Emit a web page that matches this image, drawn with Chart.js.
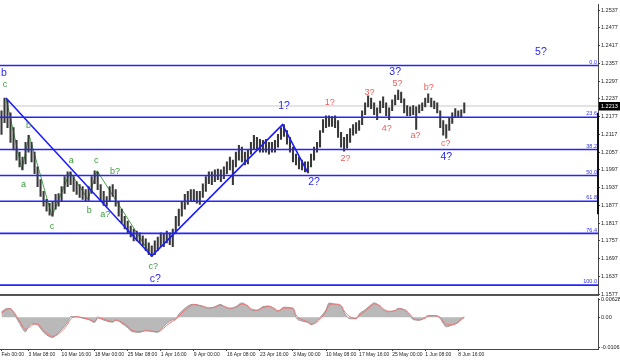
<!DOCTYPE html>
<html>
<head>
<meta charset="utf-8">
<script src="https://cdn.jsdelivr.net/npm/chart.js@4.4.0/dist/chart.umd.min.js"></script>
<style>
  html, body { margin: 0; padding: 0; background: #fff; }
  #wrap { position: relative; width: 620px; height: 361px; overflow: hidden; }
  #osc { position: absolute; left: 0; top: 294px; }
  #price { position: absolute; left: 0; top: 0; }
</style>
</head>
<body>
<div id="wrap">
  <canvas id="osc" width="620" height="67"></canvas>
  <canvas id="price" width="620" height="300"></canvas>
</div>
<script>
// 4H bars, high / low
const highs = [
  1.2197,1.2240,1.2234,1.2190,1.2140,1.2097,1.2057,1.2040,1.2090,1.2114,
  1.2090,1.2057,1.2007,1.1964,1.1924,1.1897,1.1884,1.1890,1.1914,1.1917,
  1.1940,1.1974,1.1990,1.1990,1.1974,1.1957,1.1947,1.1940,1.1930,1.1940,
  1.1974,1.1994,1.1990,1.1947,1.1924,1.1907,1.1940,1.1947,1.1930,1.1890,
  1.1864,1.1840,1.1824,1.1807,1.1797,1.1790,1.1784,1.1774,1.1764,1.1750,
  1.1740,1.1757,1.1770,1.1784,1.1780,1.1790,1.1784,1.1797,1.1840,1.1864,
  1.1890,1.1914,1.1924,1.1930,1.1930,1.1924,1.1924,1.1950,1.1974,1.1990,
  1.1990,1.1997,1.2000,1.1997,1.2007,1.2024,1.2040,1.2030,1.2057,1.2080,
  1.2074,1.2057,1.2064,1.2090,1.2114,1.2107,1.2100,1.2097,1.2100,1.2090,
  1.2090,1.2097,1.2117,1.2140,1.2150,1.2130,1.2107,1.2074,1.2050,1.2040,
  1.2030,1.2024,1.2024,1.2050,1.2074,1.2090,1.2130,1.2167,1.2180,1.2180,
  1.2177,1.2180,1.2164,1.2124,1.2107,1.2117,1.2137,1.2150,1.2157,1.2164,
  1.2197,1.2224,1.2247,1.2240,1.2224,1.2207,1.2230,1.2244,1.2224,1.2207,
  1.2234,1.2250,1.2267,1.2260,1.2237,1.2214,1.2210,1.2214,1.2210,1.2217,
  1.2224,1.2240,1.2254,1.2240,1.2230,1.2224,1.2197,1.2164,1.2150,1.2174,
  1.2190,1.2204,1.2197,1.2200,1.2224
];
const lows = [
  1.2117,1.2157,1.2140,1.2090,1.2064,1.2030,1.2007,1.1997,1.2017,1.2057,
  1.2024,1.1984,1.1940,1.1907,1.1874,1.1857,1.1844,1.1840,1.1864,1.1874,
  1.1890,1.1917,1.1940,1.1947,1.1924,1.1914,1.1904,1.1897,1.1890,1.1894,
  1.1917,1.1950,1.1930,1.1890,1.1877,1.1874,1.1890,1.1907,1.1874,1.1840,
  1.1817,1.1797,1.1784,1.1770,1.1757,1.1757,1.1750,1.1740,1.1724,1.1710,
  1.1704,1.1710,1.1724,1.1737,1.1737,1.1750,1.1744,1.1737,1.1784,1.1807,
  1.1840,1.1864,1.1880,1.1890,1.1890,1.1884,1.1880,1.1904,1.1924,1.1950,
  1.1947,1.1957,1.1964,1.1957,1.1967,1.1984,1.1997,1.1947,1.2007,1.2030,
  1.2024,1.2014,1.2017,1.2050,1.2067,1.2064,1.2057,1.2057,1.2057,1.2050,
  1.2057,1.2057,1.2074,1.2100,1.2110,1.2084,1.2057,1.2024,1.2014,1.2000,
  1.1997,1.1990,1.1987,1.2007,1.2030,1.2057,1.2074,1.2124,1.2140,1.2144,
  1.2144,1.2140,1.2107,1.2074,1.2060,1.2070,1.2090,1.2114,1.2120,1.2130,
  1.2150,1.2184,1.2210,1.2204,1.2184,1.2167,1.2190,1.2207,1.2180,1.2167,
  1.2197,1.2217,1.2234,1.2224,1.2190,1.2180,1.2180,1.2184,1.2134,1.2190,
  1.2197,1.2210,1.2224,1.2210,1.2204,1.2190,1.2140,1.2114,1.2104,1.2130,
  1.2154,1.2174,1.2174,1.2177,1.2190
];
const lastPrice = 1.2213;

const priceTicks = [1.2537,1.2477,1.2417,1.2357,1.2297,1.2237,1.2177,1.2117,1.2057,
  1.1997,1.1937,1.1877,1.1817,1.1757,1.1697,1.1637,1.1577];

const fibPrices = [1.2350, 1.2175, 1.2066, 1.1978, 1.1891, 1.1782, 1.1607];
const fibNames = ['0.0', '23.6', '38.2', '50.0', '61.8', '76.4', '100.0'];

// dark band on the price scale
const scaleBandTop = 1.2190, scaleBandBottom = 1.1847;

// wave zigzags (bar index, price)
const blueZigIdx = [1.5, 50, 93.5, 101.8];
const blueZigPrice = [1.2240, 1.1705, 1.2150, 1.1990];
const greenZigIdx = [1.5, 6.8, 9.2, 16.8, 22.8, 28.8, 31.8, 50];
const greenZigPrice = [1.2240, 1.1997, 1.2114, 1.1840, 1.1990, 1.1897, 1.1994, 1.1705];

// wave labels
const blueText = ['b', 'c?', '1?', '2?', '3?', '4?', '5?'];
const blueIdx = [0.8, 51.2, 94, 104, 131, 148, 179.5];
const bluePrice = [1.2324, 1.1627, 1.2214, 1.1954, 1.2327, 1.2040, 1.2394];
const greenText = ['c', 'b', 'a', 'c', 'a', 'b', 'c', 'b?', 'a?', 'c?'];
const greenIdx = [1.2, 9, 7.3, 16.8, 23.2, 29.2, 31.5, 37.8, 34.5, 50.5];
const greenPrice = [1.2284, 1.2147, 1.1947, 1.1807, 1.2030, 1.1860, 1.2030, 1.1990, 1.1847, 1.1670];
const redText = ['1?', '2?', '3?', '4?', '5?', 'a?', 'b?', 'c?'];
const redIdx = [109.2, 114.5, 122.5, 128.2, 131.8, 137.8, 142.2, 147.8];
const redPrice = [1.2224, 1.2034, 1.2260, 1.2137, 1.2290, 1.2114, 1.2277, 1.2087];

// oscillator
const oscIdx = [0,2,3,4,6,8,9,11,12,14,17,18,20,22,23,25,27,29,31,32,33,35,37,38,40,42,43,46,48,50,
  52,53,55,57,58,59,61,63,64,67,69,71,73,74,76,78,80,82,83,85,87,89,91,92,94,97,98,100,102,103,
  104,106,108,109,111,113,114,116,118,119,121,123,124,126,127,129,131,132,134,136,137,139,141,142,
  144,146,147,148,150,152,153,154];
const oscMain = [
  0.0019,0.0031,0.0030,0.0016,-0.0021,-0.0050,-0.0031,-0.0021,-0.0026,-0.0052,
  -0.0070,-0.0063,-0.0042,-0.0016,0.0002,0.0002,-0.0003,-0.0008,-0.0018,0.0002,
  -0.0005,-0.0013,-0.0017,-0.0008,-0.0021,-0.0036,-0.0047,-0.0052,-0.0045,-0.0049,
  -0.0052,-0.0042,-0.0021,-0.0008,-0.0005,0.0011,0.0031,0.0044,0.0045,0.0037,
  0.0031,0.0037,0.0045,0.0037,0.0030,0.0037,0.0050,0.0037,0.0026,0.0024,
  0.0037,0.0039,0.0026,0.0021,0.0035,0.0031,0.0000,-0.0013,-0.0018,-0.0026,
  -0.0021,0.0000,0.0026,0.0050,0.0045,0.0040,0.0016,-0.0005,-0.0005,0.0011,
  0.0026,0.0044,0.0050,0.0037,0.0026,0.0019,0.0024,0.0031,0.0026,0.0005,
  -0.0008,-0.0010,0.0000,0.0006,0.0006,-0.0004,-0.0021,-0.0033,-0.0026,-0.0016,
  -0.0004,0.0001
];
const oscSignal = [
  0.0015,0.0028,0.0030,0.0020,-0.0012,-0.0042,-0.0036,-0.0024,-0.0024,-0.0045,
  -0.0066,-0.0064,-0.0048,-0.0024,-0.0006,0.0002,-0.0001,-0.0006,-0.0014,-0.0004,
  -0.0003,-0.0010,-0.0015,-0.0011,-0.0017,-0.0031,-0.0042,-0.0050,-0.0047,-0.0048,
  -0.0050,-0.0046,-0.0028,-0.0013,-0.0008,0.0004,0.0024,0.0040,0.0044,0.0039,
  0.0033,0.0035,0.0042,0.0039,0.0032,0.0035,0.0046,0.0040,0.0030,0.0025,
  0.0033,0.0038,0.0030,0.0023,0.0032,0.0032,0.0008,-0.0008,-0.0016,-0.0023,
  -0.0022,-0.0006,0.0020,0.0043,0.0046,0.0041,0.0022,0.0002,-0.0004,0.0006,
  0.0021,0.0039,0.0047,0.0040,0.0030,0.0021,0.0023,0.0029,0.0027,0.0010,
  -0.0003,-0.0009,-0.0003,0.0004,0.0006,0.0000,-0.0014,-0.0026,-0.0026,-0.0018,
  -0.0008,-0.0002
];
const oscTicks = [0.00628, 0, -0.01062];
const oscTickText = ['0.00628', '0.00', '-0.01062'];

const xTickIdx = [0, 9, 20, 31, 42, 53, 64, 75, 86, 97, 108, 119, 130, 141, 152];
const xTickText = ['Feb 00:00', '3 Mar 08:00', '10 Mar 16:00', '18 Mar 00:00', '25 Mar 08:00',
  '1 Apr 16:00', '9 Apr 00:00', '16 Apr 08:00', '23 Apr 16:00', '3 May 00:00', '10 May 08:00',
  '17 May 16:00', '25 May 00:00', '1 Jun 08:00', '8 Jun 16:00'];

const FONT = "'Liberation Sans', Arial, sans-serif";
Chart.defaults.font.family = FONT;
Chart.defaults.animation = false;

const X_MIN = -0.5, X_MAX = 198.5;
const toPts = (xs, ys) => xs.map((x, i) => ({ x: x, y: ys[i] }));

function hLine(p, color, width, order) {
  return { type: 'line', data: [{ x: X_MIN, y: p }, { x: X_MAX, y: p }],
    borderColor: color, borderWidth: width, pointRadius: 0, order: order };
}

const labelPlugin = {
  id: 'waveLabels',
  afterDatasetsDraw(chart) {
    const { ctx, chartArea } = chart;
    const x = chart.scales.x, y = chart.scales.y;
    ctx.save();
    ctx.textAlign = 'center';
    ctx.textBaseline = 'middle';
    function draw(texts, idx, prices, color, size) {
      ctx.fillStyle = color;
      ctx.font = size + 'px ' + FONT;
      texts.forEach((t, i) => ctx.fillText(t, x.getPixelForValue(idx[i]), y.getPixelForValue(prices[i])));
    }
    draw(greenText, greenIdx, greenPrice, '#3c9c3c', 9);
    draw(redText, redIdx, redPrice, '#f25a5a', 9);
    draw(blueText, blueIdx, bluePrice, '#2a2ae8', 10.5);

    // fibo level names sit on their lines
    ctx.textAlign = 'right';
    ctx.textBaseline = 'bottom';
    ctx.fillStyle = '#3030f0';
    ctx.font = '5.5px ' + FONT;
    fibPrices.forEach((p, i) => ctx.fillText(fibNames[i], chartArea.right - 1, y.getPixelForValue(p) - 0.5));
    ctx.restore();
  },
  afterDraw(chart) {
    const { ctx } = chart;
    const y = chart.scales.y;
    const py = y.getPixelForValue(lastPrice);
    ctx.save();
    ctx.fillStyle = '#111';
    const bt = y.getPixelForValue(scaleBandTop), bb = y.getPixelForValue(scaleBandBottom);
    ctx.fillRect(y.left - 1, bt, 2, bb - bt);
    ctx.fillStyle = '#000';
    ctx.fillRect(y.left + 1, py - 4, 21, 8.5);
    ctx.fillStyle = '#fff';
    ctx.font = '5.5px ' + FONT;
    ctx.textAlign = 'left';
    ctx.textBaseline = 'middle';
    ctx.fillText(lastPrice.toFixed(4), y.left + 3, py + 0.3);
    ctx.restore();
  }
};

const datasets = [
  hLine(lastPrice, '#c8c8c8', 1, 6),
  { type: 'line', data: toPts(greenZigIdx, greenZigPrice), borderColor: '#4aa04a',
    borderWidth: 1, pointRadius: 0, order: 5 },
  { type: 'bar', data: highs.map((h, i) => ({ x: i, y: [lows[i], h] })),
    backgroundColor: '#383838', barThickness: 1.4, order: 4 },
  { type: 'line', data: toPts(blueZigIdx, blueZigPrice), borderColor: '#1c1cff',
    borderWidth: 1.6, pointRadius: 0, order: 1 }
];
fibPrices.forEach(p => datasets.push(hLine(p, '#2424ff', 1.6, 2)));

new Chart(document.getElementById('price'), {
  type: 'bar',
  data: { datasets: datasets },
  options: {
    responsive: false,
    animation: false,
    layout: { padding: { left: 0, right: 0, top: 0, bottom: 5 } },
    plugins: { legend: { display: false }, tooltip: { enabled: false } },
    scales: {
      x: { type: 'linear', display: false, min: X_MIN, max: X_MAX, offset: false, grid: { offset: false } },
      y: {
        position: 'right',
        min: 1.2557 - 295 / 3000,
        max: 1.2557,
        afterFit: s => { s.width = 22; },
        afterBuildTicks: s => { s.ticks = priceTicks.map(v => ({ value: v })); },
        ticks: { autoSkip: false, font: { size: 5.5 }, color: '#222', padding: 1,
          callback: v => v.toFixed(4) },
        grid: { drawOnChartArea: false, tickLength: 2, color: '#444' },
        border: { color: '#444', width: 1 }
      }
    }
  },
  plugins: [labelPlugin]
});

const separator = {
  id: 'separator',
  afterDraw(chart) {
    const { ctx, chartArea } = chart;
    ctx.save();
    ctx.fillStyle = '#555';
    ctx.fillRect(0, 0, chartArea.right, 2);
    ctx.restore();
  }
};

new Chart(document.getElementById('osc'), {
  type: 'line',
  data: {
    datasets: [
      { data: toPts(oscIdx, oscMain), borderColor: '#9a9a9a', borderWidth: 1,
        backgroundColor: '#b9b9b9', fill: 'origin', pointRadius: 0,
        cubicInterpolationMode: 'monotone', order: 2 },
      { data: toPts(oscIdx, oscSignal), borderColor: '#f07474', borderWidth: 1,
        pointRadius: 0, fill: false, cubicInterpolationMode: 'monotone', order: 1 }
    ]
  },
  options: {
    responsive: false,
    animation: false,
    layout: { padding: { left: 0, right: 0, top: 2, bottom: 0 } },
    plugins: { legend: { display: false }, tooltip: { enabled: false } },
    scales: {
      x: {
        type: 'linear', min: X_MIN, max: X_MAX,
        afterFit: s => { s.height = 12; },
        afterBuildTicks: s => { s.ticks = xTickIdx.map(v => ({ value: v })); },
        ticks: { autoSkip: false, maxRotation: 0, minRotation: 0, align: 'start', padding: 1,
          font: { size: 5 }, color: '#222', callback: (v, i) => xTickText[i] },
        grid: { drawOnChartArea: false, tickLength: 2, color: '#444' },
        border: { color: '#444', width: 1 }
      },
      y: {
        position: 'right', min: -0.0110, max: 0.0066,
        afterFit: s => { s.width = 22; },
        afterBuildTicks: s => { s.ticks = oscTicks.map(v => ({ value: v })); },
        ticks: { autoSkip: false, font: { size: 5.5 }, color: '#222', padding: 1,
          callback: (v, i) => oscTickText[i] },
        grid: { drawOnChartArea: false, tickLength: 2, color: '#444' },
        border: { color: '#444', width: 1 }
      }
    }
  },
  plugins: [separator]
});
</script>
</body>
</html>
